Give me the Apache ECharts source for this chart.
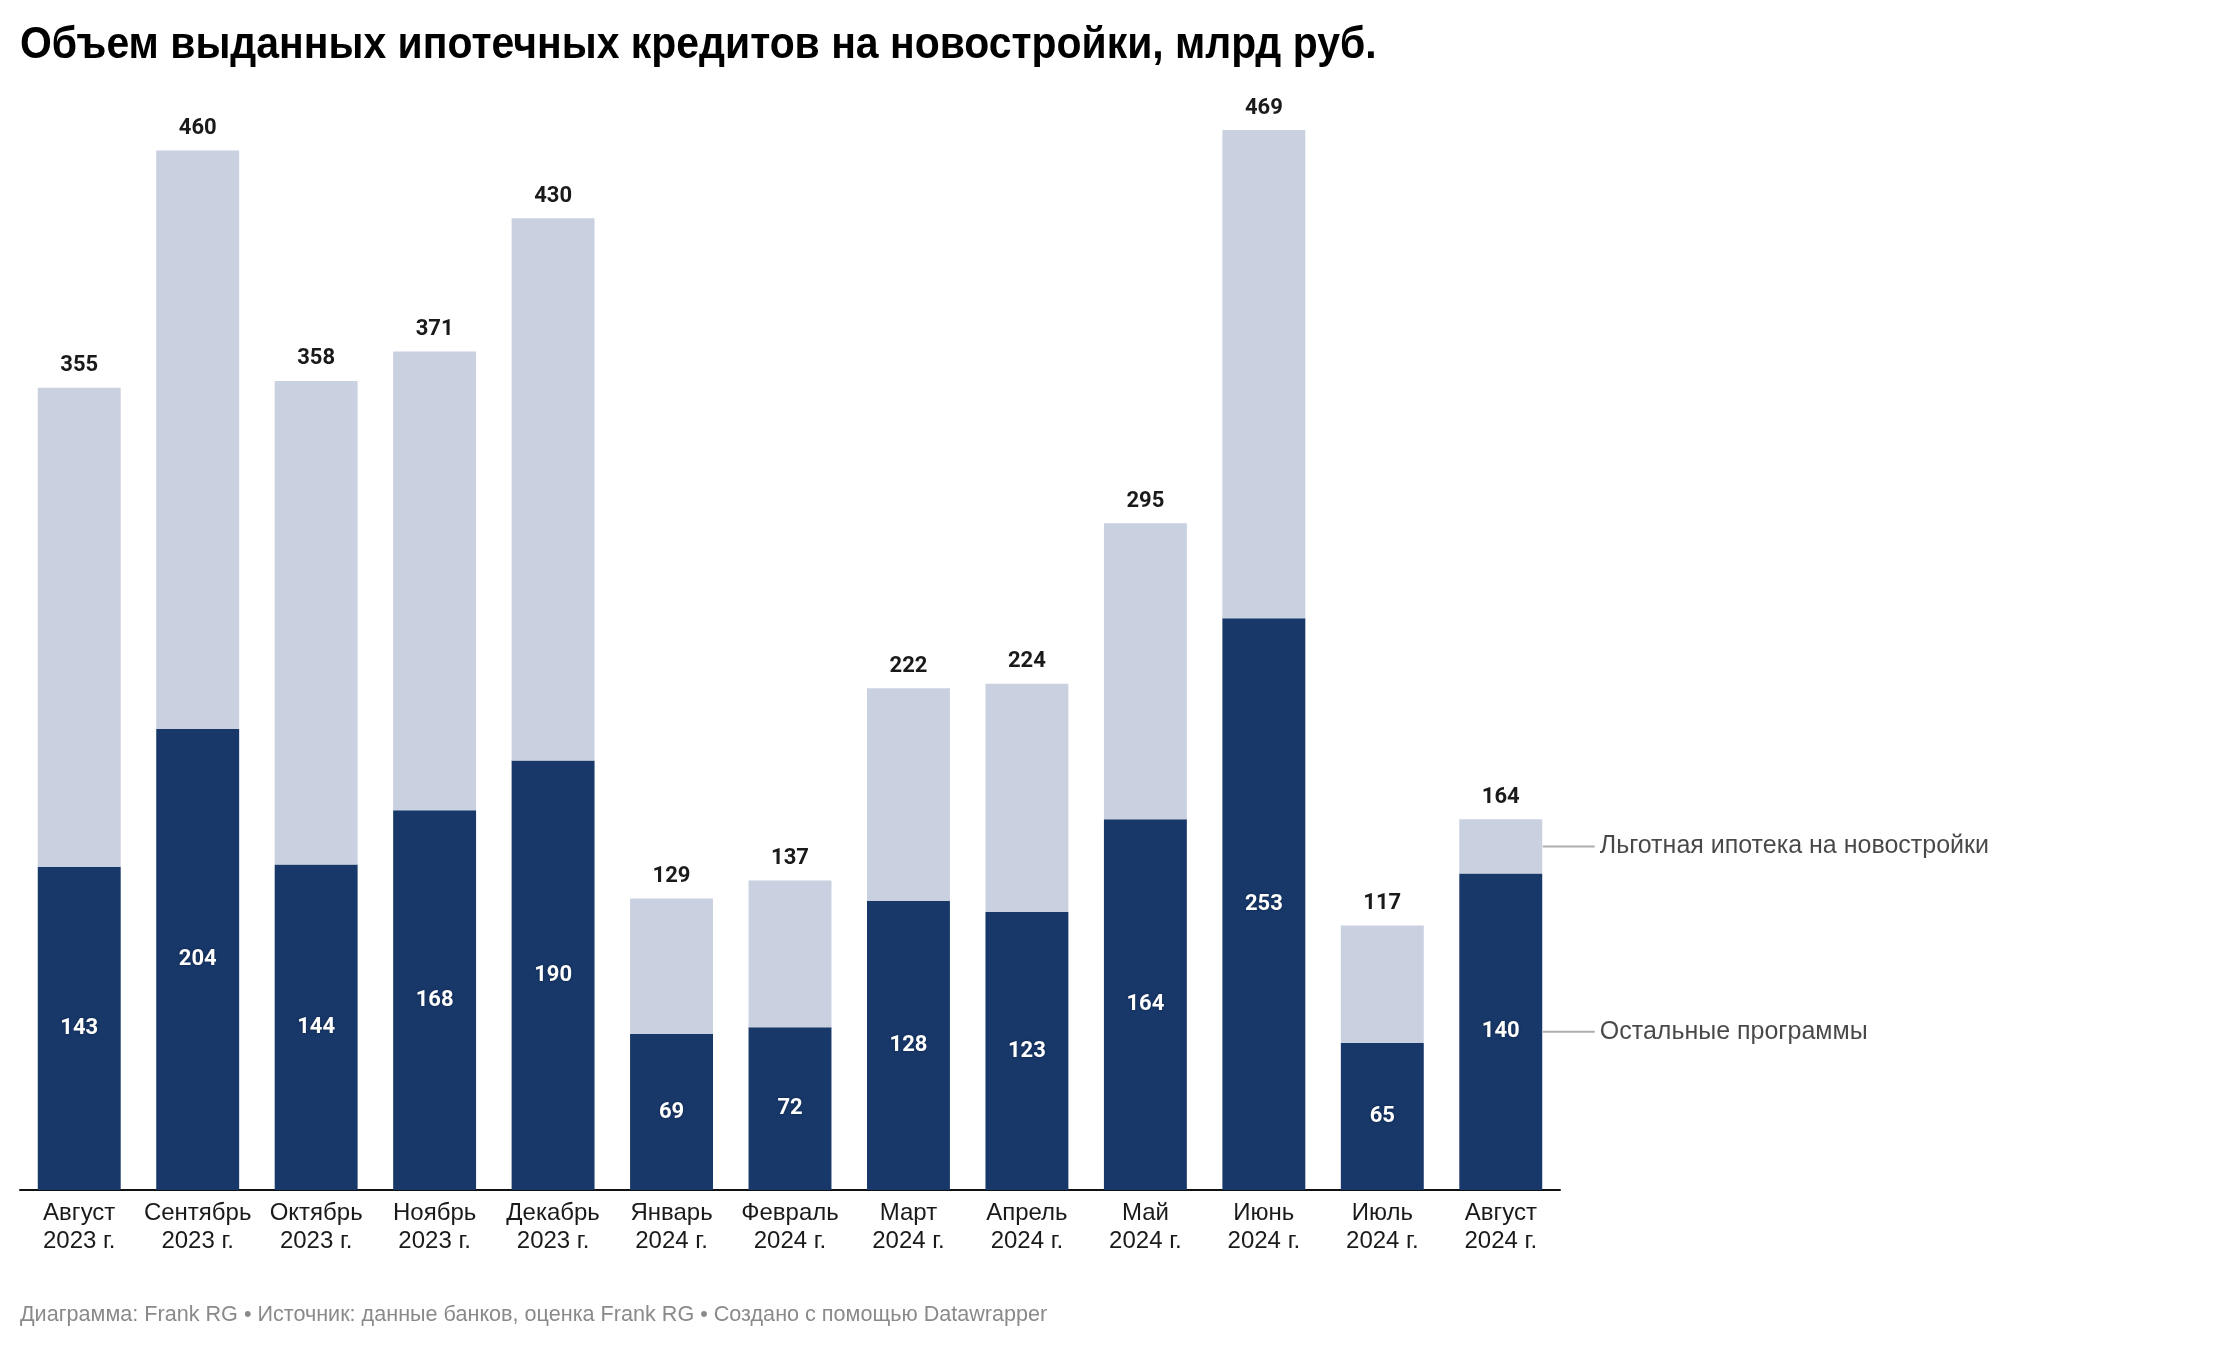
<!DOCTYPE html>
<html>
<head>
<meta charset="utf-8">
<script src="https://cdn.jsdelivr.net/npm/echarts@6/dist/echarts.min.js"></script>
<style>
html,body{margin:0;padding:0;background:#fff;}
#chart{width:2240px;height:1348px;}
</style>
</head>
<body>
<div id="chart"></div>
<script>
const categories = ['Август\n2023 г.','Сентябрь\n2023 г.','Октябрь\n2023 г.','Ноябрь\n2023 г.','Декабрь\n2023 г.','Январь\n2024 г.','Февраль\n2024 г.','Март\n2024 г.','Апрель\n2024 г.','Май\n2024 г.','Июнь\n2024 г.','Июль\n2024 г.','Август\n2024 г.'];
const otherPrograms = [143,204,144,168,190,69,72,128,123,164,253,65,140];
const totals = [355,460,358,371,430,129,137,222,224,295,469,117,164];
const preferential = totals.map((t,i)=>t-otherPrograms[i]);
const seriesNames = ['Льготная ипотека на новостройки','Остальные программы'];
const titleText = 'Объем выданных ипотечных кредитов на новостройки, млрд руб.';
const footerText = 'Диаграмма: Frank RG • Источник: данные банков, оценка Frank RG • Создано с помощью Datawrapper';

const DARK = '#18386a', LIGHT = '#c9d0e0';
const last = categories.length - 1;
const annotLight = categories.map((c,i)=> i===last ? otherPrograms[i] + preferential[i]/2 : '-');
const annotDark = categories.map((c,i)=> i===last ? otherPrograms[i]/2 : '-');
const SANS = '"Liberation Sans", Arial, sans-serif';

const chart = echarts.init(document.getElementById('chart'), null, {renderer:'canvas'});
chart.setOption({
  animation:false,
  backgroundColor:'#fff',
  textStyle:{fontFamily:'Roboto'},
  graphic:[
    {type:'text', x:20, y:24, scaleX:0.93, style:{text:titleText, fill:'#000', font:'bold 44px ' + SANS}},
    {type:'text', x:20, y:1304, style:{text:footerText, fill:'#8a8a8a', font:'21.6px ' + SANS}}
  ],
  grid:{left:20, right:680, top:60, bottom:158},
  xAxis:{
    type:'category', data:categories,
    axisLine:{lineStyle:{color:'#111', width:2}},
    axisTick:{show:false},
    axisLabel:{interval:0, margin:9, fontSize:24, lineHeight:28, color:'#1a1a1a', fontFamily:SANS}
  },
  yAxis:{type:'value', min:0, max:500, show:false, splitLine:{show:false}},
  series:[
    {
      name:seriesNames[1], type:'bar', stack:'s', data:otherPrograms, barCategoryGap:'30%',
      itemStyle:{color:DARK},
      label:{show:true, position:'inside', color:'#fff', fontSize:22, fontWeight:'bold', fontFamily:'Roboto',
        textShadowColor:'rgba(0,0,0,0.35)', textShadowBlur:3}
    },
    {
      name:seriesNames[0], type:'bar', stack:'s', data:preferential, barCategoryGap:'30%',
      itemStyle:{color:LIGHT},
      label:{show:true, position:'top', distance:11, color:'#1a1a1a', fontSize:22, fontWeight:'bold', fontFamily:'Roboto',
        formatter:p=>String(totals[p.dataIndex])}
    },
    {
      type:'scatter', data:annotLight, symbol:'rect', symbolSize:[52,2], symbolOffset:[68,0], silent:true, z:5,
      itemStyle:{color:'#9a9a9a'},
      label:{show:true, position:'right', distance:5, color:'#1a1a1a', fontSize:25, fontFamily:SANS, formatter:()=>seriesNames[0]}
    },
    {
      type:'scatter', data:annotDark, symbol:'rect', symbolSize:[52,2], symbolOffset:[68,0], silent:true, z:5,
      itemStyle:{color:'#9a9a9a'},
      label:{show:true, position:'right', distance:5, color:'#1a1a1a', fontSize:25, fontFamily:SANS, formatter:()=>seriesNames[1]}
    }
  ]
});
</script>
</body>
</html>
